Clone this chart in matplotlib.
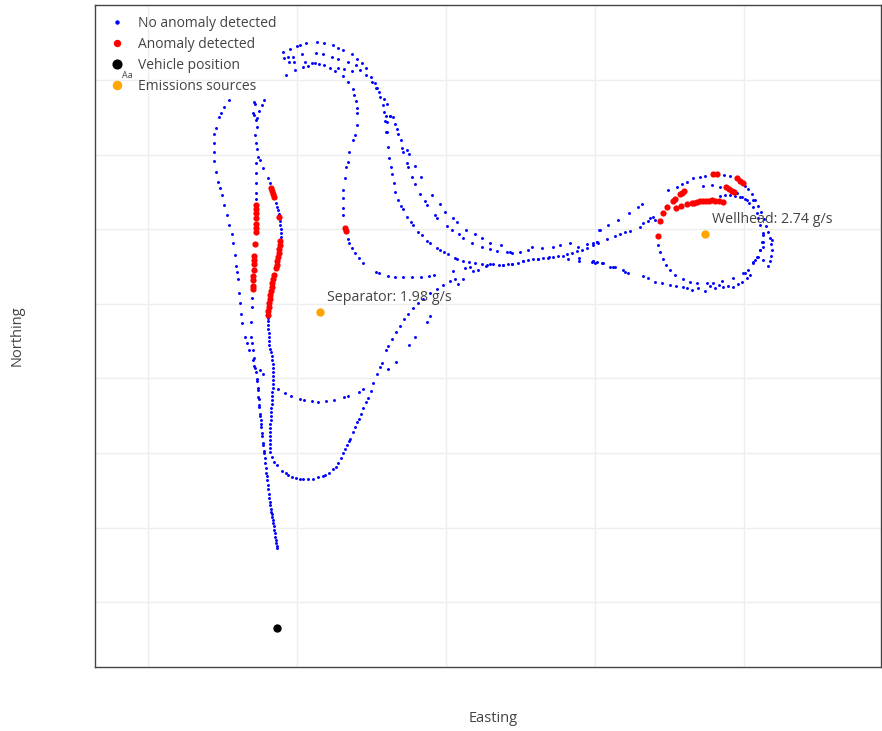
import matplotlib
matplotlib.use('Agg')
import matplotlib.pyplot as plt
from matplotlib.lines import Line2D
import numpy as np

plt.rcParams['font.family'] = ['Open Sans', 'DejaVu Sans']

# Vehicle track (easting, northing in screen units,
# northing grows downwards so the axis is inverted below)
west_arc = [(229,100),(224,107),(221,113),(219,117),(216,128),(214,134),(214,143),(214,152),(214,161),
            (216,172),(218,182),(220,188),(222,195),(224,205),(227,215),(229,225),(232,234),(233,243),
            (235,255),(236,266),(237,272),(238,279),(239,293),(240,303),(241,314),(242,323),(245,337),
            (247,343),(249,350),(253,360),(255,368),(257,379),(258,388),(258,397),(259,405),(260,416),
            (261,424),(262,433),(263,443),(264,453),(265,463),(266,473),(267,480),(268,489),(269,498),
            (270,505),(271,512),(272,517),(273,523),(274,530),(275,537),(276,543),(277,548)]

inner_column = [(254,102),(255,104),(253,113),(254,115),(256,120),(257,127),(255,135),(256,143),(257,149),
                (256,163),(256,173),(256,183),(256,193),(256,199),(252,298),(252,307),(251,322),(251,337),
                (252,343),(253,350),(254,358),(254,366),(256,372),(260,370),(263,374),(257,381),(258,390),
                (259,399),(259,407),(260,414),(261,420),(261,427),(262,436),(263,445),(264,451),(265,458),
                (266,468),(267,476),(268,485),(269,494),(270,502),(271,509),(272,514),(273,520),(274,526),
                (275,533),(276,540),(277,546)]

east_column = [(264,100),(262,105),(259,111),(257,118),(258,157),(260,160),(263,168),(268,178),(270,183),
               (276,203),(277,207),(278,210),(279,214),(280,221),(280,225),(281,229),(281,233),(281,237),
               (268,318),(268,321),(268,325),(268,329),(269,333),(269,337),(269,341),(269,345),(270,349),
               (271,352),(272,356),(272,360),(273,364),(273,368),(273,372),(273,376),(273,380),(273,384),
               (273,388),(272,392),(272,396),(272,400),(272,404),(271,408),(271,412),(271,416),(271,420),
               (270,424),(270,428),(270,432),(270,436),(270,440),(270,444),(270,448),(270,452),(272,457),
               (274,462),(277,465),(282,471),(286,473),(288,475),(292,477),(296,478),(300,479),(303,479),
               (308,479),(313,479),(318,477),(323,476),(325,475),(329,473),(333,469),(336,467),(338,463),
               (341,458),(343,453),(345,449),(347,445),(349,441),(350,439),(353,432),(355,427),(357,422),
               (359,419),(361,414),(363,408),(366,402),(368,398),(371,391),(373,383),(377,374),(380,367),
               (382,363),(386,350),(388,346),(392,339),(396,332),(400,326),(404,319),(408,314),(413,308),
               (418,303),(423,299),(430,293),(437,289),(443,285),(450,281),(455,279),(458,284),(463,279)]

south_branch = [(278,389),(285,393),(291,396),(300,399),(304,400),(312,401),(318,402),(326,401),(334,400),
                (344,397),(348,396),(359,392),(363,389),(388,369),(396,362),(409,345),(415,337),(427,322),
                (430,316),(453,271),(465,268),(470,267),(473,271),(478,270)]

loop_inner = [(286,75),(295,70),(303,67),(308,66),(312,63),(315,63),(319,64),(324,65),(330,68),(335,71),
              (338,68),(344,69),(352,71),(343,76),(348,82),(353,89),(354,95),(356,101),(357,108),(357,113),
              (357,125),(355,135),(353,140),(349,152),(348,162),(346,167),(345,178),(343,190),(343,198),
              (343,208),(343,215),(348,239),(349,243),(352,248),(355,253),(359,258),(363,263),(376,272),
              (379,273),(388,276),(395,277),(403,277),(412,277),(421,277),(429,276),(434,275)]

loop_outer = [(283,52),(290,49),(297,46),(300,45),(306,43),(317,42),(324,43),(333,45),(338,48),(343,50),
              (352,54),(357,59),(362,63),(366,68),(371,77),(375,83),(377,88),(380,97),(383,105),(386,116),
              (387,122),(387,132),(388,147),(389,158),(391,167),(392,174),(394,183),(395,192),(398,200),
              (401,206),(403,209),(407,217),(411,222),(413,225),(418,232),(422,235),(427,241),(430,243),
              (437,248),(440,250),(444,252),(448,254),(455,258),(457,259),(463,261),(469,262),(475,263),
              (482,264),(487,265),(493,264),(499,265),(503,265),(508,264),(512,264),(518,263),(523,261),
              (528,260),(533,259),(538,259),(543,258),(548,258),(553,257),(558,256),(563,256),(567,254),
              (572,253),(577,251),(582,250),(587,248),(593,245),(598,243)]

loop_middle = [(284,58),(288,57),(293,57),(302,54),(316,53),(323,54),(332,57),(338,59),(348,62),(356,65),
               (360,70),(366,75),(372,82),(376,88),(379,92),(384,99),(387,104),(390,116),(393,117),(395,124),
               (397,129),(398,134),(401,140),(402,148),(403,152),(407,163),(408,167),(412,177),(415,184),
               (420,194),(425,201),(427,205),(435,215),(437,218),(447,226),(452,230),(459,234),(463,238),
               (472,243),(482,247),(490,249),(497,251),(507,252),(512,253),(520,252),(528,250),(532,247),
               (542,248),(553,247),(560,245),(570,243),(578,247),(587,244),(597,242),(600,230)]

loop_second = [(289,62),(294,62),(305,62),(384,112),(390,116),(385,121),(386,132),(407,150),(409,154),
               (415,166),(421,177),(432,195),(440,204),(445,212),(453,218),(457,222),(466,230),(475,234),
               (482,238),(490,243),(501,245),(510,252),(549,257),(568,259),(579,258),(579,261),(593,261),
               (597,262),(486,266),(490,264),(503,265),(512,264),(523,261),(538,259)]

east_leads = [(599,230),(608,225),(618,220),(629,213),(638,207),(642,204),(593,243),(597,242),(607,239),
              (615,236),(620,234),(625,232),(630,231),(640,227),(643,223),(648,221),(650,218),(653,217),
              (655,220),(592,262),(595,263),(602,263),(610,267),(615,267),(625,272),(628,273),(643,276),
              (648,278)]

wellhead_loop = [(668,190),(677,187),(682,184),(687,182),(693,178),(700,177),(705,176),(724,175),(730,176),
                 (745,186),(748,189),(752,194),(755,200),(758,206),(761,212),(764,219),(766,226),(768,232),
                 (770,238),(771,244),(772,250),(771,256),(770,261),(768,266),(703,186),(712,185),(720,187),
                 (737,193),(742,197),(747,200),(753,200),(763,235),(763,242),(763,247),(760,250),(758,257),
                 (755,260),(753,263),(750,275),(745,273),(747,278),(742,282),(738,284),(733,287),(728,286),
                 (723,287),(719,285),(715,288),(710,286),(705,291),(698,288),(692,290),(687,288),(683,287),
                 (676,286),(670,285),(662,283),(655,282),(623,270),(613,267),(603,263),(593,261),
                 (658,245),(660,252),(663,259),(666,265),(670,270),(675,275),(683,279),(690,282),(697,283),
                 (707,283),(713,283),(722,281),(733,278),(743,273),(748,270),(753,262),(757,257),(760,250),
                 (762,242),(763,233),(760,225),(758,218),(757,213),(753,207),(749,203),(745,199),(740,197),
                 (735,196),(730,195),(725,195),(720,196),(772,240),(763,260)]

anomalies = [(256,205),(256,209),(256,213),(256,218),(256,224),(256,228),(256,232),(255,244),(254,256),
             (254,260),(254,264),(254,270),(253,276),(253,280),(253,286),(253,289),
             (271,188),(272,191),(273,194),(274,197),(279,217),(280,241),(280,245),(279,249),(279,253),
             (278,257),(277,261),(277,265),(276,268),(274,275),(273,279),(272,283),(272,287),(271,291),
             (270,295),(270,299),(269,303),(269,307),(268,311),(268,315),(345,228),(346,231),
             (658,236),(660,221),(663,213),(667,207),(673,201),(675,199),(680,194),(682,193),(684,191),
             (676,208),(681,206),(687,204),(692,203),(694,203),(697,202),(700,201),(703,201),(706,201),
             (709,201),(712,200),(715,201),(719,201),(723,202),(713,174),(717,174),(726,187),(729,189),
             (732,191),(734,192),(737,178),(740,181),(743,183)]

vehicle = (277, 628)
source_names = ['Separator', 'Wellhead']
source_rates = [1.98, 2.74]
source_east = [320, 705]
source_north = [312, 234]

normal = np.array(west_arc + inner_column + east_column + south_branch + loop_inner + loop_outer
                  + loop_middle + loop_second + east_leads + wellhead_loop)
anom = np.array(anomalies)

fig = plt.figure(figsize=(8.82, 7.31), dpi=100)
ax = fig.add_axes([95/882, 64/731, 786/882, 662/731])

ax.scatter(normal[:, 0], normal[:, 1], s=4.5, color='blue', linewidths=0, zorder=3)
ax.scatter(anom[:, 0], anom[:, 1], s=20, color='red', linewidths=0, zorder=4)
ax.scatter([vehicle[0]], [vehicle[1]], s=36, color='black', linewidths=0, zorder=5)
ax.scatter(source_east, source_north, s=36, color='orange', linewidths=0, zorder=5)

# Emission rate labels next to each source
for name, rate, e, n in zip(source_names, source_rates, source_east, source_north):
    ax.annotate(f'{name}: {rate} g/s', (e, n), xytext=(5, 10.5), textcoords='offset points',
                fontsize=10.3, color='#444444', ha='left', va='center', zorder=6)

ax.set_xlim(95, 881)
ax.set_ylim(667, 5)
ax.set_xticks([148, 297, 446, 595, 744])
ax.set_yticks([80, 155, 229, 304, 378, 453, 528, 602])
ax.tick_params(length=0, labelbottom=False, labelleft=False)
ax.grid(True, color='#eeeeee', linewidth=1)
ax.set_axisbelow(True)
for sp in ax.spines.values():
    sp.set_color('#444444')
    sp.set_linewidth(1)

fig.text(493/882, 1 - 718/731, 'Easting', fontsize=10.5, color='#444444', ha='center', va='center')
fig.text(17/882, 1 - 336/731, 'Northing', fontsize=10.5, color='#444444', ha='center', va='center',
         rotation=90)

handles = [
    Line2D([], [], marker='o', ls='', color='blue', markersize=2.2),
    Line2D([], [], marker='o', ls='', color='red', markersize=4.3),
    Line2D([], [], marker='o', ls='', color='black', markersize=6.3),
    Line2D([], [], marker='o', ls='', color='orange', markersize=5.8),
]
labels = ['No anomaly detected', 'Anomaly detected', 'Vehicle position', 'Emissions sources']
leg = ax.legend(handles, labels, loc='upper left', bbox_to_anchor=(15.5/786, 1 - 11/662),
                borderaxespad=0, borderpad=0, frameon=False, fontsize=10.0, handlelength=1.0,
                handletextpad=1.0, labelspacing=0.42, labelcolor='#444444')
ax.text(27/786, 1 - 70/662, 'Aa', transform=ax.transAxes, fontsize=6.5, color='#444444',
        ha='left', va='center')

fig.savefig('out.png', dpi=100)
